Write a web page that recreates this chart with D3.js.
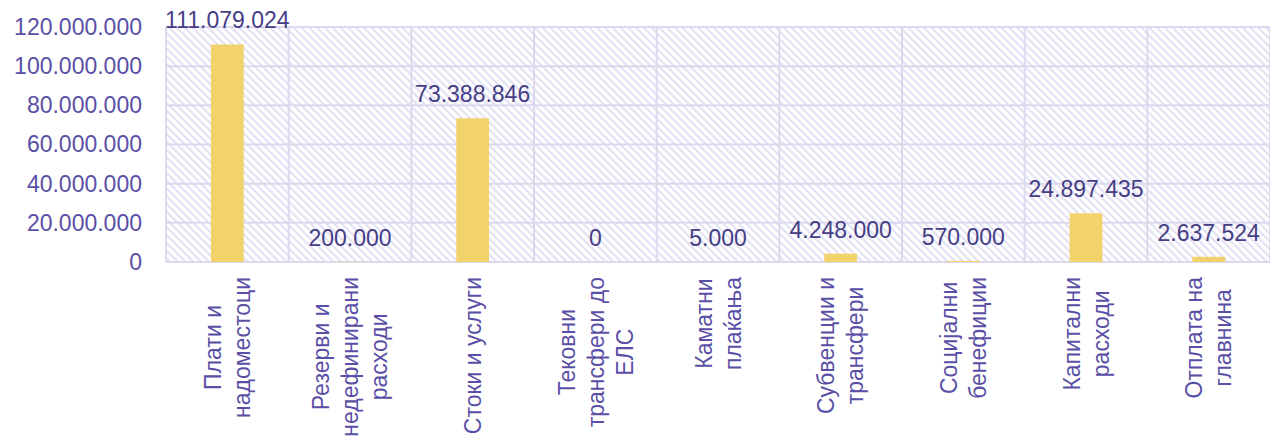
<!DOCTYPE html>
<html>
<head>
<meta charset="utf-8">
<script src="https://cdn.jsdelivr.net/npm/d3@7"></script>
<style>
  html, body { margin: 0; padding: 0; background: #fff; }
  svg { display: block; font-family: "Liberation Sans", Arial, sans-serif; }
</style>
</head>
<body>
<svg id="chart" width="1270" height="445"></svg>
<script>
// categories (each split into display lines)
var categories = [
  ['Плати и', 'надоместоци'],
  ['Резерви и', 'недефинирани', 'расходи'],
  ['Стоки и услуги'],
  ['Тековни', 'трансфери до', 'ЕЛС'],
  ['Каматни', 'плаќања'],
  ['Субвенции и', 'трансфери'],
  ['Социјални', 'бенефиции'],
  ['Капитални', 'расходи'],
  ['Отплата на', 'главнина']
];
var values = [111079024, 200000, 73388846, 0, 5000, 4248000, 570000, 24897435, 2637524];
var yTicks = [0, 20000000, 40000000, 60000000, 80000000, 100000000, 120000000];

// layout
var plot = { left: 166, right: 1272, top: 27, bottom: 262 };
var GRID = '#dcd9ee';
var BAR = '#f2d36b';
var TICK_TEXT = '#5a4fa6';
var VALUE_TEXT = '#463d85';
var FONT_SIZE = 23;
var LINE_HEIGHT = 29;

var locale = d3.formatLocale({ decimal: ',', thousands: '.', grouping: [3], currency: ['', ''] });
var fmt = locale.format(',d');

var svg = d3.select('#chart');

// diagonal hatch for the plot background
var defs = svg.append('defs');
defs.append('pattern')
  .attr('id', 'hatch')
  .attr('patternUnits', 'userSpaceOnUse')
  .attr('width', 5.5)
  .attr('height', 5.5)
  .attr('patternTransform', 'rotate(-45)')
  .append('rect')
  .attr('x', 0)
  .attr('y', 0)
  .attr('width', 2.2)
  .attr('height', 5.5)
  .attr('fill', '#e3e1f4');

var x = d3.scaleBand()
  .domain(d3.range(categories.length))
  .range([plot.left, plot.right - 2])
  .padding(0);

var y = d3.scaleLinear()
  .domain([0, 120000000])
  .range([plot.bottom, plot.top]);

// background
svg.append('rect')
  .attr('x', plot.left)
  .attr('y', plot.top)
  .attr('width', plot.right - plot.left)
  .attr('height', plot.bottom - plot.top)
  .attr('fill', 'url(#hatch)');

// horizontal grid
svg.append('g')
  .selectAll('line')
  .data(yTicks)
  .join('line')
  .attr('x1', plot.left)
  .attr('x2', plot.right)
  .attr('y1', function (d) { return y(d); })
  .attr('y2', function (d) { return y(d); })
  .attr('stroke', GRID)
  .attr('stroke-width', 2);

// vertical grid at category boundaries
var bounds = d3.range(categories.length + 1).map(function (i) {
  return i < categories.length ? x(i) : x(i - 1) + x.bandwidth();
});
svg.append('g')
  .selectAll('line')
  .data(bounds)
  .join('line')
  .attr('x1', function (d) { return d; })
  .attr('x2', function (d) { return d; })
  .attr('y1', plot.top)
  .attr('y2', plot.bottom)
  .attr('stroke', GRID)
  .attr('stroke-width', 2);

// y axis labels
var yAxis = d3.axisLeft(y).tickValues(yTicks).tickFormat(fmt).tickSize(0).tickPadding(24);
var yg = svg.append('g')
  .attr('transform', 'translate(' + plot.left + ',0)')
  .call(yAxis);
yg.select('.domain').remove();
yg.selectAll('text')
  .attr('fill', TICK_TEXT)
  .attr('font-size', FONT_SIZE)
  .attr('font-family', '"Liberation Sans", Arial, sans-serif');

// bars
var barW = x.bandwidth() * 0.267;
svg.append('g')
  .selectAll('rect')
  .data(values)
  .join('rect')
  .attr('x', function (d, i) { return x(i) + x.bandwidth() / 2 - barW / 2; })
  .attr('y', function (d) { return y(d); })
  .attr('width', barW)
  .attr('height', function (d) { return y(0) - y(d); })
  .attr('fill', BAR);

// value labels
svg.append('g')
  .selectAll('text')
  .data(values)
  .join('text')
  .attr('x', function (d, i) { return x(i) + x.bandwidth() / 2; })
  .attr('y', function (d) { return y(d) - 16; })
  .attr('text-anchor', 'middle')
  .attr('font-size', FONT_SIZE)
  .attr('fill', VALUE_TEXT)
  .text(function (d) { return fmt(d); });

// category labels, rotated, lines centred on each other
var labels = svg.append('g')
  .selectAll('text')
  .data(categories)
  .join('text')
  .attr('text-anchor', 'middle')
  .attr('font-size', FONT_SIZE)
  .attr('fill', TICK_TEXT);

labels.each(function (lines, i) {
  var t = d3.select(this);
  var n = lines.length;
  t.selectAll('tspan')
    .data(lines)
    .join('tspan')
    .attr('x', 0)
    .attr('y', function (d, j) { return (j - (n - 1) / 2) * LINE_HEIGHT + FONT_SIZE * 0.36; })
    .text(function (d) { return d; });
  var maxLen = 0;
  t.selectAll('tspan').each(function () {
    maxLen = Math.max(maxLen, this.getComputedTextLength());
  });
  var cx = x(i) + x.bandwidth() / 2;
  var cy = 277 + maxLen / 2;
  t.attr('transform', 'translate(' + cx + ',' + cy + ') rotate(-90)');
});
</script>
</body>
</html>
